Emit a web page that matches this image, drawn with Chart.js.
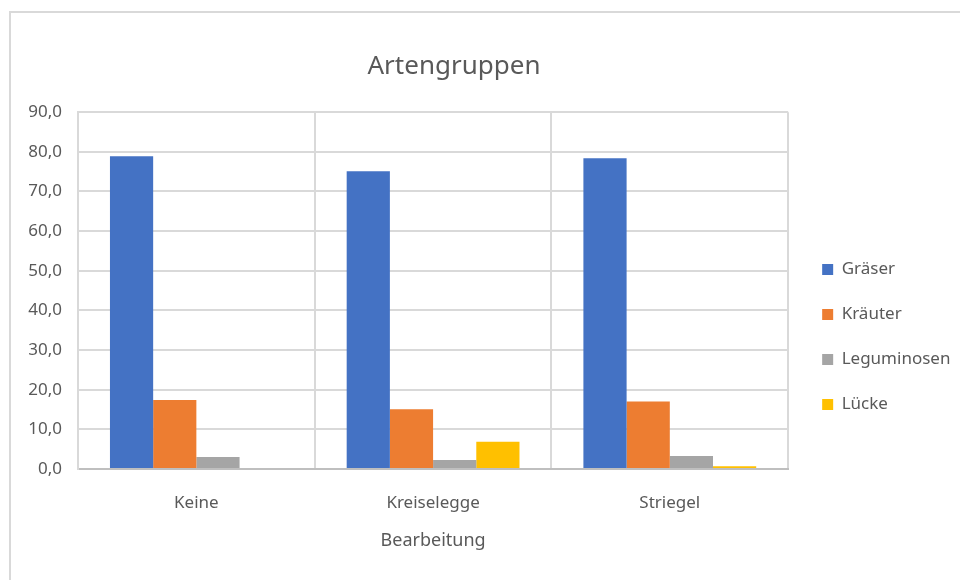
<!DOCTYPE html>
<html>
<head>
<meta charset="utf-8">
<script src="https://cdn.jsdelivr.net/npm/chart.js@4"></script>
<style>
  html, body { margin: 0; padding: 0; overflow: hidden; background: #fff; }
  #frame { position: absolute; left: 9px; top: 11px; width: 1000px; height: 620px; border: 2px solid #d9d9d9; }
  #wrap { position: absolute; left: 0; top: 0; width: 960px; height: 580px; }
</style>
</head>
<body>
<div id="frame"></div>
<div id="wrap"><canvas id="chart" width="960" height="580"></canvas></div>
<script>
var categories = ["Keine", "Kreiselegge", "Striegel"];
var graeser = [78.9, 75.1, 78.4];
var kraeuter = [17.4, 15.1, 17.0];
var leguminosen = [3.0, 2.3, 3.3];
var luecke = [0, 6.9, 0.7];
var yTicks = [0, 10, 20, 30, 40, 50, 60, 70, 80, 90];

var fontName = "'Noto Sans', 'Open Sans', sans-serif";
var textColor = "#595959";

// the title in the original sits a bit left of the canvas centre
var shiftTitle = {
    id: "shiftTitle",
    afterLayout: function (chart) {
        if (chart.titleBlock) {
            chart.titleBlock.left = 0;
            chart.titleBlock.right = 908;
        }
    },
};

var ctx = document.getElementById("chart").getContext("2d");
var chart = new Chart(ctx, {
    type: "bar",
    data: {
        labels: categories,
        datasets: [
            { label: "Gräser", data: graeser, backgroundColor: "#4472C4" },
            { label: "Kräuter", data: kraeuter, backgroundColor: "#ED7D31" },
            { label: "Leguminosen", data: leguminosen, backgroundColor: "#A5A5A5" },
            { label: "Lücke", data: luecke, backgroundColor: "#FFC000" },
        ],
    },
    plugins: [shiftTitle],
    options: {
        responsive: false,
        animation: false,
        layout: { padding: { top: 12, right: 7, bottom: 28, left: 0 } },
        datasets: {
            bar: { categoryPercentage: 0.73, barPercentage: 1.0 },
        },
        plugins: {
            title: {
                display: true,
                text: "Artengruppen",
                color: textColor,
                font: { family: fontName, size: 26, weight: "normal" },
                padding: { top: 39, bottom: 30 },
            },
            legend: {
                position: "right",
                align: "center",
                title: {
                    display: true,
                    text: " ",
                    font: { size: 10, lineHeight: 1 },
                    padding: { top: 100, bottom: 0 },
                },
                labels: {
                    boxWidth: 11,
                    boxHeight: 11,
                    padding: 28,
                    color: textColor,
                    font: { family: fontName, size: 17 },
                },
            },
            tooltip: { enabled: false },
        },
        scales: {
            x: {
                afterFit: function (scale) { scale.height = 83; },
                grid: { color: "#d9d9d9", lineWidth: 2, drawTicks: false, offset: true },
                border: { color: "#bfbfbf", width: 2 },
                ticks: {
                    color: textColor,
                    padding: 24,
                    font: { family: fontName, size: 17 },
                },
                title: {
                    display: true,
                    text: "Bearbeitung",
                    color: textColor,
                    font: { family: fontName, size: 18 },
                    padding: { top: 18, bottom: 0 },
                },
            },
            y: {
                min: 0,
                max: 90,
                afterFit: function (scale) { scale.width = 78; },
                afterBuildTicks: function (scale) {
                    scale.ticks = yTicks.map(function (v) { return { value: v }; });
                },
                grid: { color: "#d9d9d9", lineWidth: 2, drawTicks: false },
                border: { color: "#d9d9d9", width: 2 },
                ticks: {
                    color: textColor,
                    padding: 16,
                    font: { family: fontName, size: 17 },
                    callback: function (v) { return v.toFixed(1).replace(".", ","); },
                },
            },
            // empty spacer between plot and legend
            gap: {
                position: "right",
                min: 0,
                max: 90,
                afterFit: function (scale) { scale.width = 6; },
                grid: { display: false, drawTicks: false },
                border: { display: false },
                ticks: { display: false },
            },
        },
    },
});
</script>
</body>
</html>
